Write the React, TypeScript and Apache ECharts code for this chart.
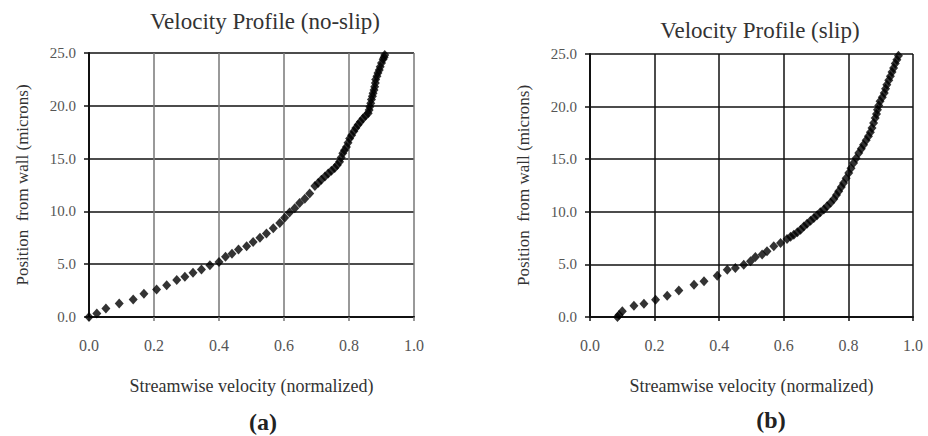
import React, { useEffect, useRef } from "react";
import * as echarts from "echarts";

const xTicks = ["0.0", "0.2", "0.4", "0.6", "0.8", "1.0"];
const yTicks = ["0.0", "5.0", "10.0", "15.0", "20.0", "25.0"];

const noSlipVelocity = [
  0, 0.024, 0.052, 0.093, 0.136, 0.169, 0.208, 0.239, 0.27, 0.295, 0.32, 0.346, 0.372, 0.4, 0.42, 0.44,
  0.46, 0.485, 0.505, 0.526, 0.546, 0.567, 0.587, 0.602, 0.617, 0.633, 0.648, 0.664, 0.679, 0.695, 0.705,
  0.715, 0.726, 0.736, 0.746, 0.756, 0.764, 0.771, 0.776, 0.781, 0.786, 0.792, 0.797, 0.802, 0.808, 0.815,
  0.821, 0.828, 0.835, 0.843, 0.851, 0.859, 0.862, 0.864, 0.867, 0.869, 0.872, 0.874, 0.877, 0.879, 0.881,
  0.882, 0.886, 0.889, 0.893, 0.896, 0.9, 0.905, 0.908, 0.91,
];
const noSlipPosition = [
  0, 0.32, 0.8, 1.27, 1.65, 2.2, 2.6, 3.0, 3.5, 3.8, 4.2, 4.5, 4.9, 5.2, 5.7, 6.0,
  6.4, 6.7, 7.1, 7.5, 7.9, 8.4, 8.9, 9.4, 9.9, 10.3, 10.8, 11.2, 11.7, 12.4, 12.7,
  13.0, 13.3, 13.6, 13.85, 14.1, 14.4, 14.7, 15.1, 15.5, 15.8, 16.1, 16.5, 16.9, 17.2, 17.6,
  17.9, 18.2, 18.5, 18.8, 19.05, 19.3, 19.6, 19.9, 20.25, 20.6, 20.9, 21.2, 21.5, 21.8, 22.15,
  22.5, 22.8, 23.1, 23.4, 23.7, 24.05, 24.4, 24.6, 24.8,
];

const slipVelocity = [
  0.085, 0.09, 0.1, 0.136, 0.167, 0.203, 0.239, 0.275, 0.322, 0.353, 0.394, 0.425, 0.45, 0.476, 0.497,
  0.512, 0.533, 0.548, 0.569, 0.59, 0.61, 0.621, 0.631, 0.642, 0.652, 0.662, 0.672, 0.683, 0.693, 0.703,
  0.713, 0.724, 0.734, 0.745, 0.755, 0.763, 0.77, 0.778, 0.785, 0.793, 0.801, 0.808, 0.816, 0.824, 0.832,
  0.84, 0.847, 0.855, 0.862, 0.868, 0.873, 0.878, 0.883, 0.887, 0.89, 0.894, 0.898, 0.905, 0.911, 0.915,
  0.919, 0.925, 0.93, 0.935, 0.94, 0.945, 0.95, 0.955,
];
const slipPosition = [
  0, 0.2, 0.54, 1.08, 1.27, 1.65, 2.03, 2.53, 3.07, 3.39, 3.93, 4.5, 4.66, 4.97, 5.29,
  5.7, 5.93, 6.24, 6.72, 7.03, 7.41, 7.62, 7.83, 8.06, 8.3, 8.6, 8.87, 9.14, 9.41, 9.68,
  9.95, 10.23, 10.52, 10.87, 11.22, 11.6, 11.95, 12.35, 12.74, 13.2, 13.69, 14.15, 14.64, 15.1, 15.59,
  16.0, 16.38, 16.8, 17.17, 17.57, 17.97, 18.45, 18.92, 19.3, 19.71, 20.1, 20.5, 20.9, 21.29, 21.7,
  22.08, 22.5, 22.88, 23.3, 23.67, 24.1, 24.46, 24.84,
];

const serif = "'Liberation Serif', 'DejaVu Serif', serif";

function pairs(xs: number[], ys: number[]) {
  return xs.map((x, i) => [x, ys[i]]);
}

export default function App() {
  const ref = useRef<HTMLDivElement>(null);
  useEffect(() => {
    document.body.style.margin = "0";
    const chart = echarts.init(ref.current!, null, { renderer: "svg" });
    const xAxisBase = (gridIndex: number, vColor: string) => ({
      type: "value",
      gridIndex,
      min: 0,
      max: 1,
      interval: 0.2,
      name: "Streamwise velocity (normalized)",
      nameLocation: "middle",
      nameGap: 60,
      nameTextStyle: { fontFamily: serif, fontSize: 18, color: "#333" },
      axisLine: { show: true, lineStyle: { color: "#111", width: 2 } },
      axisTick: { show: true, length: 4, lineStyle: { color: vColor, width: 1.5 } },
      axisLabel: {
        margin: 20,
        fontFamily: serif,
        fontSize: 16,
        color: "#555",
        formatter: (v: number) => xTicks[Math.round(v / 0.2)],
      },
      splitLine: { show: true, lineStyle: { color: vColor, width: 1.5 } },
    });
    const yAxisBase = (gridIndex: number) => ({
      type: "value",
      gridIndex,
      min: 0,
      max: 25,
      interval: 5,
      name: "Position  from wall (microns)",
      nameLocation: "middle",
      nameGap: 58,
      nameTextStyle: { fontFamily: serif, fontSize: 17, color: "#333" },
      axisLine: { show: true, lineStyle: { color: "#111", width: 2 } },
      axisTick: { show: true, length: 5, lineStyle: { color: "#111", width: 1.5 } },
      axisLabel: {
        margin: 13,
        fontFamily: serif,
        fontSize: 15,
        color: "#555",
        formatter: (v: number) => yTicks[Math.round(v / 5)],
      },
      splitLine: { show: true, lineStyle: { color: "#111", width: 1.5 } },
    });
    chart.setOption({
      animation: false,
      backgroundColor: "#fff",
      title: [
        {
          text: "Velocity Profile (no-slip)",
          left: 260,
          top: 5,
          textAlign: "center",
          textStyle: { fontFamily: serif, fontSize: 23, fontWeight: "normal", color: "#333" },
        },
        {
          text: "Velocity Profile (slip)",
          left: 755,
          top: 14,
          textAlign: "center",
          textStyle: { fontFamily: serif, fontSize: 23, fontWeight: "normal", color: "#333" },
        },
        {
          text: "(a)",
          left: 258,
          top: 405,
          textAlign: "center",
          textStyle: { fontFamily: serif, fontSize: 24, fontWeight: "bold", color: "#222" },
        },
        {
          text: "(b)",
          left: 766,
          top: 403,
          textAlign: "center",
          textStyle: { fontFamily: serif, fontSize: 24, fontWeight: "bold", color: "#222" },
        },
      ],
      grid: [
        { left: 89, top: 53, width: 325, height: 264 },
        { left: 590, top: 54, width: 323, height: 263 },
      ],
      xAxis: [xAxisBase(0, "#777"), xAxisBase(1, "#111")],
      yAxis: [yAxisBase(0), yAxisBase(1)],
      series: [
        {
          type: "scatter",
          xAxisIndex: 0,
          yAxisIndex: 0,
          symbol: "diamond",
          symbolSize: [9, 10],
          itemStyle: { color: "#000" },
          data: pairs(noSlipVelocity, noSlipPosition),
        },
        {
          type: "scatter",
          xAxisIndex: 1,
          yAxisIndex: 1,
          symbol: "diamond",
          symbolSize: [9, 10],
          itemStyle: { color: "#000" },
          data: pairs(slipVelocity, slipPosition),
        },
      ],
    });
    return () => chart.dispose();
  }, []);
  return <div ref={ref} style={{ width: 928, height: 436 }} />;
}
